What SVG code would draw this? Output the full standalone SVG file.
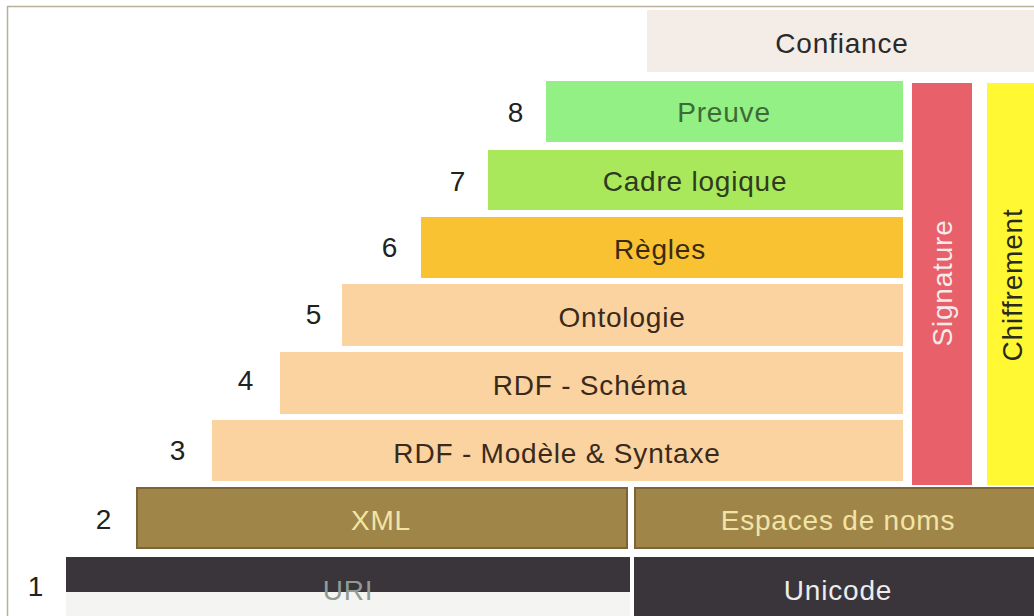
<svg xmlns="http://www.w3.org/2000/svg" width="1034" height="616" viewBox="0 0 1034 616">
<style>
text{font-family:"Liberation Sans",Arial,sans-serif;font-size:28px;letter-spacing:0.8px}
.lbl{text-anchor:middle}
.num{font-size:28px;fill:#222;text-anchor:middle}
.peach{fill:#fad3a0}
.brown{fill:#a08549;stroke:#7c6436;stroke-width:2}
.dark{fill:#3a343b}
</style>
<rect width="1034" height="616" fill="#ffffff"/>
<path d="M7.5,616 V6.5 H1034" fill="none" stroke="#b8b098" stroke-width="1.5"/>

<g id="confiance">
<rect x="647" y="10" width="387" height="62" fill="#f3ece7"/>
<text class="lbl" x="842" y="53" fill="#2a2a2a">Confiance</text>
</g>

<g id="preuve">
<text class="num" x="516" y="122">8</text>
<rect x="546" y="81" width="357" height="61" fill="#92f084"/>
<text class="lbl" x="724" y="122" fill="#3d6a36">Preuve</text>
</g>

<g id="cadre-logique">
<text class="num" x="458" y="191">7</text>
<rect x="488" y="150" width="415" height="60" fill="#a9e85a"/>
<text class="lbl" x="695" y="191" fill="#2f3a20">Cadre logique</text>
</g>

<g id="regles">
<text class="num" x="390" y="257">6</text>
<rect x="421" y="217" width="482" height="61" fill="#f8c232"/>
<text class="lbl" x="660" y="259" fill="#3a2a14">Règles</text>
</g>

<g id="ontologie">
<text class="num" x="314" y="324">5</text>
<rect class="peach" x="342" y="284" width="561" height="62"/>
<text class="lbl" x="622" y="327" fill="#3a2a1c">Ontologie</text>
</g>

<g id="rdf-schema">
<text class="num" x="246" y="390">4</text>
<rect class="peach" x="280" y="352" width="623" height="62"/>
<text class="lbl" x="590" y="395" fill="#3a2a1c">RDF - Schéma</text>
</g>

<g id="rdf-modele">
<text class="num" x="178" y="460">3</text>
<rect class="peach" x="212" y="420" width="691" height="61"/>
<text class="lbl" x="557" y="463" fill="#3a2a1c">RDF - Modèle &amp; Syntaxe</text>
</g>

<g id="signature">
<rect x="912" y="83" width="60" height="402" fill="#e8606a"/>
<text class="lbl" transform="translate(952,283) rotate(-90)" fill="#f6eaea">Signature</text>
</g>

<g id="chiffrement">
<rect x="987" y="83" width="47" height="402" fill="#fff832"/>
<text class="lbl" transform="translate(1022,285) rotate(-90)" fill="#2a2a1a">Chiffrement</text>
</g>

<g id="xml">
<text class="num" x="104" y="529">2</text>
<rect class="brown" x="137" y="488" width="490" height="60"/>
<text class="lbl" x="381" y="530" fill="#f2e4a6">XML</text>
</g>

<g id="espaces-de-noms">
<rect class="brown" x="635" y="488" width="400" height="60"/>
<text class="lbl" x="838" y="530" fill="#f2e4a6">Espaces de noms</text>
</g>

<g id="uri">
<text class="num" x="36" y="596">1</text>
<rect class="dark" x="66" y="557" width="564" height="35"/>
<rect x="66" y="592" width="564" height="24" fill="#f4f4f2"/>
<text class="lbl" x="348" y="600" fill="#8e9c94">URI</text>
</g>

<g id="unicode">
<rect class="dark" x="634" y="557" width="400" height="59"/>
<text class="lbl" x="838" y="600" fill="#ececec">Unicode</text>
</g>

<g id="connectors"/>
</svg>
